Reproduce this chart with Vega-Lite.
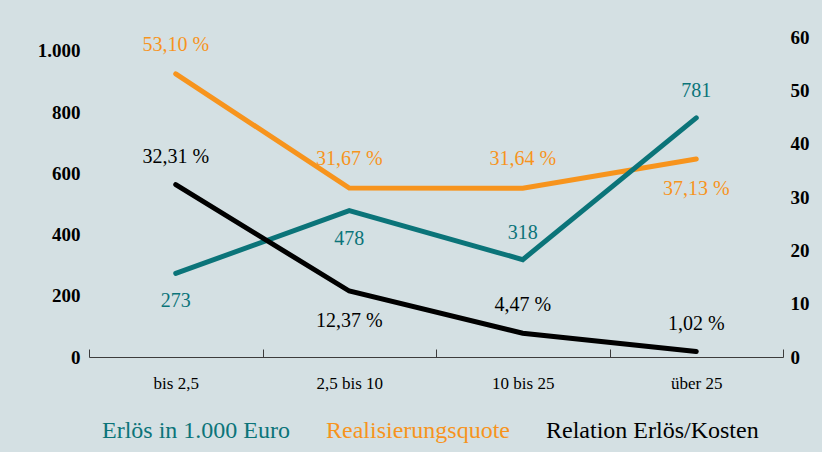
{
  "$schema": "https://vega.github.io/schema/vega-lite/v6.json",
  "width": 694,
  "height": 320,
  "autosize": {"type": "none"},
  "padding": {"left": 89, "top": 37, "right": 39, "bottom": 95},
  "background": "#d4e0e3",
  "config": {
    "view": {"stroke": null},
    "font": "Liberation Serif",
    "text": {"font": "Liberation Serif"}
  },
  "data": {
    "values": [
      {"klasse": "bis 2,5", "reihe": "Erlös in 1.000 Euro", "wert": 273, "beschriftung": "273"},
      {"klasse": "2,5 bis 10", "reihe": "Erlös in 1.000 Euro", "wert": 478, "beschriftung": "478"},
      {"klasse": "10 bis 25", "reihe": "Erlös in 1.000 Euro", "wert": 318, "beschriftung": "318"},
      {"klasse": "über 25", "reihe": "Erlös in 1.000 Euro", "wert": 781, "beschriftung": "781"},
      {"klasse": "bis 2,5", "reihe": "Realisierungsquote", "wert": 53.10, "beschriftung": "53,10 %"},
      {"klasse": "2,5 bis 10", "reihe": "Realisierungsquote", "wert": 31.67, "beschriftung": "31,67 %"},
      {"klasse": "10 bis 25", "reihe": "Realisierungsquote", "wert": 31.64, "beschriftung": "31,64 %"},
      {"klasse": "über 25", "reihe": "Realisierungsquote", "wert": 37.13, "beschriftung": "37,13 %"},
      {"klasse": "bis 2,5", "reihe": "Relation Erlös/Kosten", "wert": 32.31, "beschriftung": "32,31 %"},
      {"klasse": "2,5 bis 10", "reihe": "Relation Erlös/Kosten", "wert": 12.37, "beschriftung": "12,37 %"},
      {"klasse": "10 bis 25", "reihe": "Relation Erlös/Kosten", "wert": 4.47, "beschriftung": "4,47 %"},
      {"klasse": "über 25", "reihe": "Relation Erlös/Kosten", "wert": 1.02, "beschriftung": "1,02 %"}
    ]
  },
  "encoding": {
    "x": {
      "field": "klasse",
      "type": "nominal",
      "sort": null,
      "bandPosition": 0.5,
      "scale": {"type": "band", "paddingInner": 0, "paddingOuter": 0},
      "axis": {
        "title": null,
        "labelAngle": 0,
        "grid": false,
        "domainColor": "#3c3c3c",
        "tickColor": "#3c3c3c",
        "tickSize": -8,
        "tickBand": "extent",
        "labelPadding": 26,
        "labelFontSize": 17,
        "labelColor": "#000000",
        "labelFont": "Liberation Serif"
      }
    },
    "color": {
      "field": "reihe",
      "type": "nominal",
      "scale": {
        "domain": ["Erlös in 1.000 Euro", "Realisierungsquote", "Relation Erlös/Kosten"],
        "range": ["#0b7479", "#f7941d", "#000000"]
      },
      "legend": {
        "title": null,
        "orient": "none",
        "legendX": -11,
        "legendY": 382,
        "direction": "horizontal",
        "symbolSize": 0,
        "symbolStrokeWidth": 0,
        "symbolOpacity": 0,
        "labelOffset": 0,
        "columnPadding": 12,
        "labelFontSize": 24,
        "labelFont": "Liberation Serif",
        "labelLimit": 0,
        "encode": {"labels": {"update": {"fill": {"scale": "color", "field": "value"}}}}
      }
    }
  },
  "layer": [
    {
      "transform": [{"filter": "datum.reihe === 'Realisierungsquote'"}],
      "encoding": {
        "y": {
          "field": "wert",
          "type": "quantitative",
          "scale": {"domain": [0, 60], "nice": false},
          "axis": {
            "orient": "right",
            "title": null,
            "values": [0, 10, 20, 30, 40, 50, 60],
            "domain": false,
            "ticks": false,
            "grid": false,
            "labelPadding": 7,
            "labelFontSize": 19,
            "labelFontWeight": "bold",
            "labelColor": "#000000",
            "labelFont": "Liberation Serif"
          }
        }
      },
      "layer": [
        {"mark": {"type": "line", "strokeWidth": 5, "strokeCap": "round"}},
        {
          "transform": [{"filter": {"field": "klasse", "oneOf": ["bis 2,5", "2,5 bis 10", "10 bis 25"]}}],
          "mark": {"type": "text", "dy": -29, "fontSize": 20, "font": "Liberation Serif"},
          "encoding": {"text": {"field": "beschriftung"}}
        },
        {
          "transform": [{"filter": {"field": "klasse", "oneOf": ["über 25"]}}],
          "mark": {"type": "text", "dy": 30, "fontSize": 20, "font": "Liberation Serif"},
          "encoding": {"text": {"field": "beschriftung"}}
        }
      ]
    },
    {
      "transform": [{"filter": "datum.reihe === 'Erlös in 1.000 Euro'"}],
      "encoding": {
        "y": {
          "field": "wert",
          "type": "quantitative",
          "scale": {"domain": [0, 1045], "nice": false},
          "axis": {
            "orient": "left",
            "title": null,
            "values": [0, 200, 400, 600, 800, 1000],
            "labelExpr": "replace(format(datum.value, ','), ',', '.')",
            "domain": false,
            "ticks": false,
            "grid": false,
            "labelPadding": 9,
            "labelFontSize": 19,
            "labelFontWeight": "bold",
            "labelColor": "#000000",
            "labelFont": "Liberation Serif"
          }
        }
      },
      "layer": [
        {"mark": {"type": "line", "strokeWidth": 5, "strokeCap": "round"}},
        {
          "transform": [{"filter": {"field": "klasse", "oneOf": ["10 bis 25", "über 25"]}}],
          "mark": {"type": "text", "dy": -27, "fontSize": 20, "font": "Liberation Serif"},
          "encoding": {"text": {"field": "beschriftung"}}
        },
        {
          "transform": [{"filter": {"field": "klasse", "oneOf": ["bis 2,5", "2,5 bis 10"]}}],
          "mark": {"type": "text", "dy": 28, "fontSize": 20, "font": "Liberation Serif"},
          "encoding": {"text": {"field": "beschriftung"}}
        }
      ]
    },
    {
      "transform": [{"filter": "datum.reihe === 'Relation Erlös/Kosten'"}],
      "encoding": {
        "y": {
          "field": "wert",
          "type": "quantitative",
          "scale": {"domain": [0, 60], "nice": false},
          "axis": null
        }
      },
      "layer": [
        {"mark": {"type": "line", "strokeWidth": 5, "strokeCap": "round"}},
        {
          "transform": [{"filter": {"field": "klasse", "oneOf": ["bis 2,5", "10 bis 25", "über 25"]}}],
          "mark": {"type": "text", "dy": -28, "fontSize": 20, "font": "Liberation Serif"},
          "encoding": {"text": {"field": "beschriftung"}}
        },
        {
          "transform": [{"filter": {"field": "klasse", "oneOf": ["2,5 bis 10"]}}],
          "mark": {"type": "text", "dy": 30, "fontSize": 20, "font": "Liberation Serif"},
          "encoding": {"text": {"field": "beschriftung"}}
        }
      ]
    }
  ],
  "resolve": {"scale": {"y": "independent"}, "axis": {"y": "independent"}}
}
